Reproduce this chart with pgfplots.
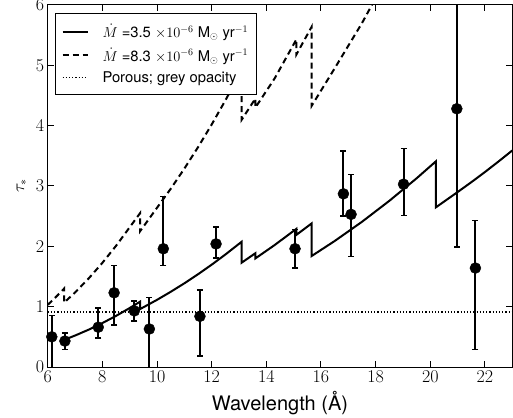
\documentclass[border=0pt]{standalone}
\usepackage{fontspec}
\setmainfont{TeX Gyre Heros}
\newfontfamily\lmfont{Latin Modern Roman}
\usepackage{pgfplots}
\pgfplotsset{compat=1.18}
\begin{document}
\begin{tikzpicture}
\begin{axis}[
  scale only axis,
  width=464.6pt, height=362pt,
  xmin=6, xmax=23, ymin=0, ymax=6,
  xtick={6,8,...,22}, ytick={0,1,...,6},
  tick align=inside,
  major tick length=6pt,
  every tick/.style={black, line width=1pt},
  axis line style={line width=1pt},
  /pgf/number format/assume math mode=true,
  tick label style={font=\lmfont\fontsize{18}{18}\selectfont},
  xlabel={Wavelength (Å)},
  ylabel={$\tau_*$},
  xlabel style={font=\fontsize{20}{20}\selectfont, at={(axis description cs:0.5,0)}, anchor=base, yshift=-43pt},
  ylabel style={font=\fontsize{18}{18}\selectfont, at={(axis description cs:-0.056,0.5)}, anchor=center},
  legend style={at={(axis description cs:0,1)}, anchor=north west, xshift=7.3pt, yshift=-7.7pt,
    font=\fontsize{14.8}{17}\selectfont, draw=black, line width=1pt, fill=white,
    row sep=5pt, inner xsep=6pt, inner ysep=9pt, cells={anchor=west},
    /tikz/every odd column/.append style={column sep=12pt}},
  legend image code/.code={\draw[#1] (0pt,0pt) -- (25pt,0pt);},
  clip mode=individual,
]
\addplot[black, line width=2pt, sharp plot] coordinates {
(6.6,0.45) (7.0,0.521) (7.5,0.619) (8.0,0.728) (8.5,0.847) (9.0,0.977) (9.38,1.083)
(9.38,0.96) (10,1.113) (10.5,1.246) (11,1.387) (11.5,1.537) (12,1.696) (12.5,1.864) (13.1,2.077)
(13.1,1.73) (13.6,1.886)
(13.6,1.80) (14.3,2.02) (15.1,2.29)
(15.1,2.19) (15.66,2.38)
(15.66,1.84) (16.5,2.088) (17.5,2.407) (18.5,2.754) (19.5,3.128) (20.2,3.407)
(20.2,2.645) (21,2.90) (21.5,3.063) (22,3.232) (22.5,3.408) (23,3.589)
};
\addlegendentry{$\dot{M}$ =3.5 $\times10^{-6}$ M$_\odot$ yr$^{-1}$}
\addplot[black, line width=2pt, sharp plot, dash pattern=on 6pt off 4pt] coordinates {
(6.0,1.03) (6.3,1.16) (6.6,1.30)
(6.6,1.067) (7.0,1.235) (7.5,1.468) (8.0,1.726) (8.5,2.008) (9.0,2.316) (9.38,2.55)
(9.38,2.25) (10,2.639) (10.5,2.953) (11,3.288) (11.5,3.643) (12,4.019) (12.5,4.418) (13.1,4.923)
(13.1,4.10) (13.6,4.45)
(13.6,4.30) (14.3,4.78) (15.1,5.43)
(15.1,5.18) (15.66,5.64)
(15.66,4.33) (16.5,4.95) (17.5,5.70) (18.5,6.53)
};
\addlegendentry{$\dot{M}$ =8.3 $\times10^{-6}$ M$_\odot$ yr$^{-1}$}
\addplot[black, line width=1.2pt, dash pattern=on 1.2pt off 2pt] coordinates {(6,0.91) (23,0.91)};
\addlegendentry{Porous; grey opacity}
\addplot[black, only marks, mark=*, mark size=5.5pt, forget plot,
  error bars/.cd, y dir=both, y explicit,
  error bar style={line width=2pt},
  error mark options={rotate=90, mark size=3pt, line width=1.5pt}]
  table[x=x, y=y, y error plus=ep, y error minus=em] {
x     y     ep    em
6.15  0.50  0.35  0.60
6.63  0.43  0.13  0.14
7.85  0.66  0.32  0.18
8.43  1.23  0.45  0.53
9.17  0.93  0.16  0.17
9.72  0.63  0.52  0.80
10.23 1.96  0.87  0.28
11.57 0.84  0.44  0.66
12.16 2.04  0.28  0.23
15.05 1.96  0.32  0.32
16.82 2.87  0.71  0.37
17.10 2.53  0.66  0.70
19.02 3.03  0.59  0.52
20.97 4.28  1.73  2.29
21.65 1.64  0.79  1.35
};
\end{axis}
\pgfresetboundingbox
\path[use as bounding box] ([shift={(-47.7pt,-50pt)}]current axis.south west) rectangle ([shift={(0.7pt,5pt)}]current axis.north east);
\end{tikzpicture}
\end{document}
